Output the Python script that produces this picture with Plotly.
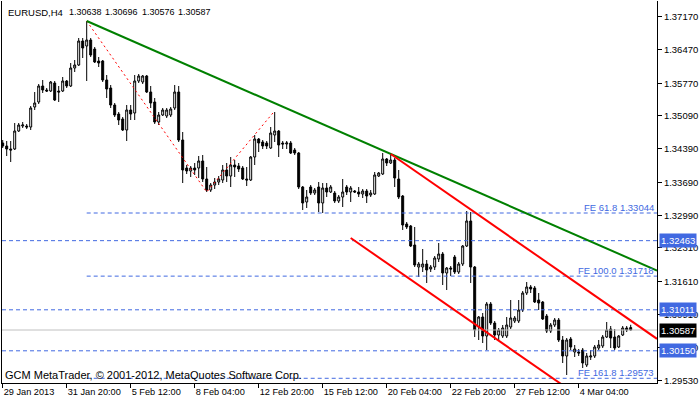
import plotly.graph_objects as go

# ---------------- data (EURUSD H4) ----------------
opens = [1.34514,1.34451,1.34388,1.34388,1.34766,1.34871,1.34871,1.34850,1.35270,1.35375,
         1.35711,1.35627,1.35606,1.35774,1.35606,1.35606,1.35816,1.35711,1.36089,1.36152,
         1.36656,1.36551,1.36677,1.36488,1.36236,1.36236,1.35837,1.35669,1.35312,1.35123,
         1.35018,1.34787,1.35207,1.35144,1.35816,1.35795,1.35921,1.35585,1.35375,1.34955,
         1.35102,1.35081,1.35102,1.35249,1.35585,1.34577,1.33989,1.33926,1.33989,1.33989,
         1.34136,1.33758,1.33527,1.33632,1.33695,1.33737,1.33947,1.33821,1.34052,1.34031,
         1.33989,1.33758,1.33737,1.34220,1.34598,1.34535,1.34514,1.34409,1.34682,1.34766,
         1.34514,1.34493,1.34514,1.34367,1.34304,1.33590,1.33275,1.33590,1.33464,1.33590,
         1.33254,1.33569,1.33485,1.33464,1.33296,1.33380,1.33590,1.33485,1.33506,1.33485,
         1.33443,1.33506,1.33422,1.33443,1.33821,1.33863,1.34178,1.34094,1.34157,1.33758,
         1.33401,1.32813,1.32771,1.32372,1.31910,1.31910,1.31973,1.31868,1.31910,1.32078,
         1.32183,1.31784,1.31889,1.32120,1.31805,1.31973,1.32351,1.32876,1.31910,1.30650,
         1.30860,1.30461,1.31133,1.30734,1.30482,1.30461,1.30461,1.30650,1.30776,1.30776,
         1.31007,1.31364,1.31490,1.31469,1.31217,1.31175,1.30881,1.30566,1.30692,1.30797,
         1.30377,1.30041,1.30398,1.30125,1.30125,1.30167,1.29852,1.30020,1.30041,1.30209,
         1.30251,1.30440,1.30608,1.30440,1.30230,1.30482,1.30629,1.30638]
highs = [1.34577,1.34556,1.34556,1.34934,1.34934,1.34955,1.34913,1.35291,1.35585,1.35753,
         1.35837,1.35669,1.35816,1.35816,1.35711,1.35900,1.35837,1.36194,1.36257,1.36719,
         1.36719,1.37076,1.36719,1.36530,1.36320,1.36257,1.35942,1.35732,1.35354,1.35165,
         1.35060,1.35312,1.35312,1.35942,1.35963,1.35942,1.35942,1.35711,1.35459,1.35165,
         1.35249,1.35249,1.35270,1.35732,1.35711,1.34745,1.34052,1.34031,1.34094,1.34241,
         1.34262,1.34010,1.33674,1.33779,1.33821,1.34052,1.34094,1.34220,1.34157,1.34094,
         1.34031,1.34010,1.34241,1.34682,1.34619,1.34577,1.34556,1.34850,1.35165,1.34787,
         1.34556,1.34556,1.34556,1.34409,1.34325,1.33611,1.33527,1.33632,1.33569,1.33695,
         1.33674,1.33674,1.33632,1.33506,1.33422,1.33758,1.33632,1.33611,1.33527,1.33590,
         1.33548,1.33548,1.33527,1.33905,1.33905,1.34304,1.34199,1.34283,1.34199,1.33947,
         1.33422,1.32855,1.32792,1.32750,1.32015,1.32288,1.32057,1.31952,1.32141,1.32414,
         1.32225,1.31910,1.31931,1.32162,1.32015,1.32372,1.33086,1.33065,1.31931,1.30881,
         1.30944,1.31175,1.31175,1.30776,1.30629,1.30692,1.30860,1.31217,1.30881,1.31217,
         1.31406,1.31595,1.31532,1.31511,1.31364,1.31196,1.30923,1.30734,1.30839,1.30839,
         1.30461,1.30419,1.30440,1.30272,1.30188,1.30209,1.30104,1.30167,1.30272,1.30377,
         1.30482,1.30755,1.30671,1.30608,1.30482,1.30671,1.30671,1.30696]
lows = [1.34409,1.34241,1.34115,1.34367,1.34745,1.34829,1.34808,1.34787,1.35207,1.35333,
        1.35564,1.35585,1.35585,1.35396,1.35375,1.35585,1.35669,1.35690,1.36005,1.36131,
        1.36299,1.35816,1.36320,1.36194,1.36110,1.35795,1.35459,1.35249,1.35060,1.34892,
        1.34766,1.34556,1.34997,1.34997,1.35774,1.35753,1.35564,1.35249,1.34913,1.34892,
        1.35081,1.35039,1.35060,1.35207,1.34535,1.33674,1.33863,1.33800,1.33842,1.33779,
        1.33695,1.33485,1.33485,1.33548,1.33632,1.33674,1.33695,1.33590,1.33800,1.33905,
        1.33737,1.33611,1.33716,1.34052,1.34325,1.34388,1.34388,1.34388,1.34535,1.34220,
        1.34388,1.34388,1.34283,1.34262,1.33548,1.33107,1.33149,1.33422,1.33422,1.33065,
        1.33044,1.33380,1.33464,1.33254,1.33254,1.33170,1.33422,1.33275,1.33464,1.33380,
        1.33359,1.33254,1.33380,1.33422,1.33800,1.33842,1.34031,1.34073,1.33590,1.33338,
        1.32687,1.32708,1.32330,1.31910,1.31700,1.31805,1.31574,1.31805,1.31847,1.32015,
        1.31532,1.31427,1.31721,1.31763,1.31763,1.31931,1.32330,1.31574,1.30440,1.30377,
        1.30314,1.30167,1.30692,1.30377,1.30377,1.30419,1.30419,1.30608,1.30734,1.30734,
        1.30965,1.31322,1.31364,1.31154,1.31007,1.30797,1.30524,1.30524,1.30650,1.30335,
        1.29894,1.29642,1.30167,1.30020,1.30041,1.29789,1.29810,1.29957,1.29999,1.30167,
        1.30209,1.30419,1.30209,1.30167,1.30209,1.30461,1.30545,1.30576]
closes = [1.34451,1.34388,1.34367,1.34766,1.34892,1.34892,1.34850,1.35249,1.35354,1.35711,
          1.35627,1.35606,1.35795,1.35417,1.35585,1.35816,1.35711,1.36089,1.36152,1.36656,
          1.36509,1.36677,1.36362,1.36215,1.36194,1.35837,1.35648,1.35312,1.35102,1.34997,
          1.34787,1.35207,1.35123,1.35816,1.35921,1.35921,1.35585,1.35354,1.34955,1.35102,
          1.35207,1.35207,1.35228,1.35585,1.34577,1.33947,1.33926,1.33989,1.33947,1.34136,
          1.33758,1.33527,1.33632,1.33695,1.33758,1.33947,1.33821,1.34052,1.34010,1.33968,
          1.33758,1.33737,1.34220,1.34598,1.34514,1.34451,1.34451,1.34724,1.34766,1.34472,
          1.34493,1.34514,1.34304,1.34304,1.33590,1.33254,1.33380,1.33464,1.33527,1.33254,
          1.33569,1.33485,1.33590,1.33296,1.33380,1.33485,1.33485,1.33569,1.33485,1.33443,
          1.33506,1.33401,1.33464,1.33842,1.33884,1.34178,1.34094,1.34157,1.33779,1.33380,
          1.32792,1.32750,1.32351,1.31952,1.31973,1.31973,1.31847,1.31910,1.32099,1.32183,
          1.31784,1.31889,1.31868,1.31805,1.31973,1.32351,1.32876,1.31910,1.30587,1.30860,
          1.30461,1.31133,1.30734,1.30482,1.30587,1.30629,1.30692,1.30839,1.30839,1.31007,
          1.31364,1.31490,1.31448,1.31175,1.31154,1.30818,1.30566,1.30692,1.30797,1.30377,
          1.30041,1.30377,1.30230,1.30188,1.30104,1.29894,1.30041,1.30041,1.30230,1.30272,
          1.30440,1.30587,1.30419,1.30209,1.30461,1.30629,1.30587,1.30587]
bars = list(range(len(closes)))

x_tick_bars = [0, 16, 32, 48, 64, 80, 96, 112, 128, 144]
x_tick_labels = ["29 Jan 2013", "31 Jan 20:00", "5 Feb 12:00", "8 Feb 04:00", "12 Feb 20:00",
                 "15 Feb 12:00", "20 Feb 04:00", "22 Feb 20:00", "27 Feb 12:00", "4 Mar 04:00"]
y_tick_labels = ["1.37170", "1.36470", "1.35770", "1.35090", "1.34390", "1.33690",
                 "1.32990", "1.32310", "1.31610", "1.30910", "1.30210", "1.29530"]

# trend lines: anchor bars / prices
green_bars = [21, 97]
green_prices = [1.37076, 1.34283]
red_upper_bars = [97, 157]
red_upper_prices = [1.34283, 1.30785]
red_lower_start_bar = 87
red_lower_start_price = 1.32519
fe_path_bars = [21, 51, 68]
fe_path_prices = [1.37076, 1.33485, 1.35189]

fe_levels = [1.33044, 1.31718, 1.29573]
fe_labels = ["FE 61.8 1.33044", "FE 100.0 1.31718", "FE 161.8 1.29573"]
fe_start_bar = 21
h_levels = [1.32463, 1.31011, 1.30150]
last_price = 1.30587
symbol = "EURUSD,H4"
ohlc_header = ["1.30638", "1.30696", "1.30576", "1.30587"]

X_MIN, X_MAX = -0.175, 163.575
Y_MIN, Y_MAX = 1.29474, 1.37496

BLUE = "#4169E1"
FONT = "Liberation Sans"
FS = 9.5

fig = go.Figure()

def extend(b, p, x_end):
    slope = (p[1] - p[0]) / (b[1] - b[0])
    return [b[0], x_end], [p[0], p[0] + slope * (x_end - b[0])]

# horizontal level lines
for lv in h_levels:
    fig.add_trace(go.Scatter(x=[X_MIN, X_MAX], y=[lv, lv], mode="lines",
                             line=dict(color=BLUE, width=1, dash="4px,3px"), hoverinfo="skip"))
for lv in fe_levels:
    fig.add_trace(go.Scatter(x=[fe_start_bar, X_MAX], y=[lv, lv], mode="lines",
                             line=dict(color=BLUE, width=1, dash="4px,3px"), hoverinfo="skip"))
# last price line
fig.add_trace(go.Scatter(x=[X_MIN, X_MAX], y=[last_price, last_price], mode="lines",
                         line=dict(color="#C0C0C0", width=1), hoverinfo="skip"))

# candles
fig.add_trace(go.Candlestick(
    x=bars, open=opens, high=highs, low=lows, close=closes,
    increasing=dict(line=dict(color="black", width=1), fillcolor="white"),
    decreasing=dict(line=dict(color="black", width=1), fillcolor="black"),
    whiskerwidth=0, hoverinfo="skip"))

# FE zigzag
fig.add_trace(go.Scatter(x=fe_path_bars, y=fe_path_prices, mode="lines",
                         line=dict(color="red", width=1, dash="2px,3px"), hoverinfo="skip"))
# green trend line
gx, gy = extend(green_bars, green_prices, X_MAX)
fig.add_trace(go.Scatter(x=gx, y=gy, mode="lines", line=dict(color="green", width=2), hoverinfo="skip"))
# red channel
rx, ry = extend(red_upper_bars, red_upper_prices, X_MAX)
fig.add_trace(go.Scatter(x=rx, y=ry, mode="lines", line=dict(color="red", width=2), hoverinfo="skip"))
slope_r = (red_upper_prices[1] - red_upper_prices[0]) / (red_upper_bars[1] - red_upper_bars[0])
fig.add_trace(go.Scatter(x=[red_lower_start_bar, X_MAX],
                         y=[red_lower_start_price, red_lower_start_price + slope_r * (X_MAX - red_lower_start_bar)],
                         mode="lines", line=dict(color="red", width=2), hoverinfo="skip"))

annotations = []
# header: symbol and OHLC values along the top-left
header_texts = [symbol] + ohlc_header
header_shifts = [4, 64.5, 101, 137.5, 174]
header_sizes = [9.5, 9, 9, 9, 9]
for txt, sh, fsz in zip(header_texts, header_shifts, header_sizes):
    annotations.append(dict(text=txt, xref="paper", yref="paper", x=0, y=1, xanchor="left", yanchor="top",
                            xshift=sh, yshift=-4, showarrow=False,
                            font=dict(family=FONT, size=fsz, color="black")))
annotations.append(dict(text="GCM MetaTrader, © 2001-2012, MetaQuotes Software Corp.", xref="paper", yref="paper",
                        x=0, y=0, xanchor="left", yanchor="bottom", xshift=1, yshift=0, showarrow=False,
                        font=dict(family=FONT, size=11, color="black")))
for lv, lab in zip(fe_levels, fe_labels):
    annotations.append(dict(text=lab, xref="paper", yref="y", x=1, y=lv, xanchor="right", yanchor="bottom",
                            xshift=-1, yshift=-2, showarrow=False, font=dict(family=FONT, size=FS, color=BLUE)))
for lv in h_levels:
    annotations.append(dict(text=f"{lv:.5f}", xref="paper", yref="y", x=1, y=lv, xanchor="left", yanchor="middle",
                            xshift=2, showarrow=False, bgcolor=BLUE, borderpad=1,
                            font=dict(family=FONT, size=FS, color="white")))
annotations.append(dict(text=f"{last_price:.5f}", xref="paper", yref="y", x=1, y=last_price, xanchor="left",
                        yanchor="middle", xshift=2, showarrow=False, bgcolor="black", borderpad=1,
                        font=dict(family=FONT, size=FS, color="white")))

fig.update_layout(
    width=700, height=402,
    margin=dict(l=2, r=43, t=1, b=19, autoexpand=False),
    paper_bgcolor="white", plot_bgcolor="white",
    showlegend=False,
    annotations=annotations,
    xaxis=dict(range=[X_MIN, X_MAX], rangeslider=dict(visible=False), showgrid=False, zeroline=False,
               tickmode="array", tickvals=x_tick_bars, ticktext=x_tick_labels, tickangle=0,
               ticks="outside", ticklen=4, tickcolor="black", ticklabelposition="outside right",
               showline=True, linecolor="black", linewidth=1, automargin=False,
               tickfont=dict(family=FONT, size=9.2, color="black")),
    yaxis=dict(range=[Y_MIN, Y_MAX], side="right", showgrid=False, zeroline=False,
               tickmode="array", tickvals=[float(t) for t in y_tick_labels], ticktext=y_tick_labels,
               ticks="outside", ticklen=4, tickcolor="black", automargin=False,
               showline=True, linecolor="black", linewidth=1, mirror=True,
               tickfont=dict(family=FONT, size=FS, color="black")),
)

fig.write_html("out.html", config={"displayModeBar": False},
               post_script="document.body.style.margin='0';document.body.style.overflow='hidden';")
